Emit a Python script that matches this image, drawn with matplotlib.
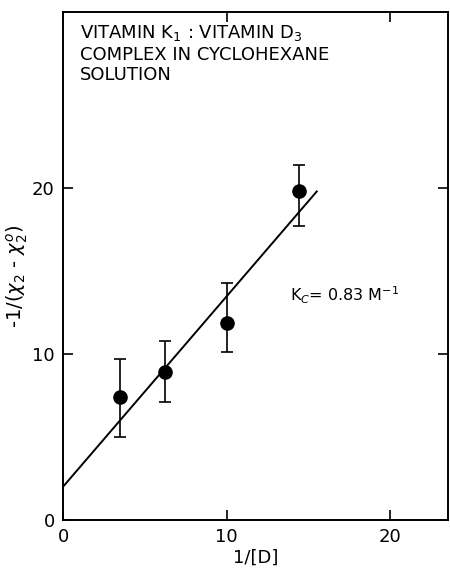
import matplotlib
matplotlib.use("Agg")
import matplotlib.pyplot as plt
import numpy as np

# data
inv_d = [3.5, 6.2, 10.0, 14.4]
inv_chi = [7.4, 8.9, 11.9, 19.8]
err_lo = [2.4, 1.8, 1.8, 2.1]
err_hi = [2.3, 1.9, 2.4, 1.6]
fit_x = [0.0, 15.5]
fit_y = [2.0, 19.8]

fig = plt.figure(figsize=(4.5, 5.75), dpi=100)
ax = fig.add_axes([0.14, 0.0957, 0.855, 0.883])

ax.errorbar(inv_d, inv_chi, yerr=[err_lo, err_hi], fmt='o', color='black',
            markersize=9.5, capsize=4, elinewidth=1.2, capthick=1.2)
ax.plot(fit_x, fit_y, color='black', linewidth=1.4)

ax.set_xlim(0, 23.5)
ax.set_ylim(0, 30.6)
ax.set_xticks([0, 10, 20])
ax.set_yticks([0, 10, 20])
ax.tick_params(direction='in', top=True, right=True, length=7, width=1.2,
               labelsize=13, pad=6)
for s in ax.spines.values():
    s.set_linewidth(1.4)

ax.set_xlabel("1/[D]", fontsize=13, labelpad=2)
ax.set_ylabel(r"-1/($\chi_2$ - $\chi_2^{o}$)", fontsize=14)
ax.yaxis.set_label_coords(-0.085, 0.48)

ax.text(0.045, 0.978, "VITAMIN K$_1$ : VITAMIN D$_3$\nCOMPLEX IN CYCLOHEXANE\nSOLUTION",
        transform=ax.transAxes, fontsize=13, va='top', ha='left', linespacing=1.15)
ax.text(0.59, 0.443, r"K$_C$= 0.83 M$^{-1}$", transform=ax.transAxes,
        fontsize=11.5, va='center', ha='left')

fig.savefig("out.png", dpi=100)
